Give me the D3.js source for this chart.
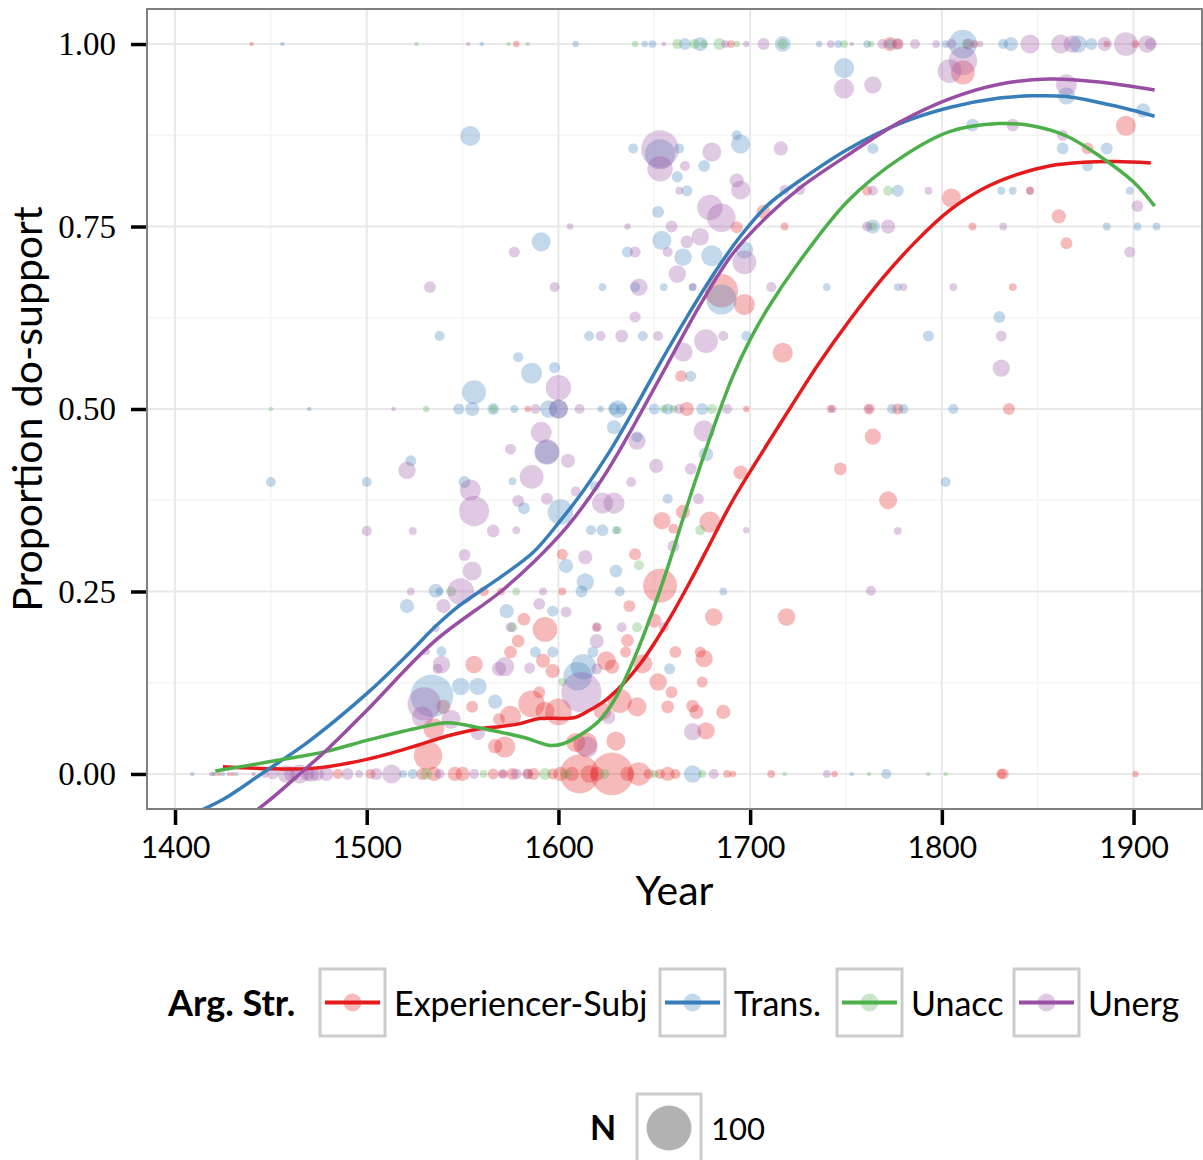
<!DOCTYPE html>
<html>
<head>
<meta charset="utf-8">
<script src="https://cdn.jsdelivr.net/npm/d3@7"></script>
<style>
  body { margin: 0; background: #fff; }
  text { font-family: Lato, "Noto Sans", sans-serif; }
</style>
</head>
<body>
<div id="root"></div>
<script>
// Chart size
const width = 1203;
const height = 1160;

// Panel box
const panel = { left: 147, right: 1202, top: 9, bottom: 809 };

// Group names and colours (ColorBrewer Set1)
const groups = ["Experiencer-Subj", "Trans.", "Unacc", "Unerg"];
const colors = ["#e41a1c", "#377eb8", "#4daf4a", "#984ea3"];

// Tick labels
const xTicks = [1400, 1500, 1600, 1700, 1800, 1900];
const yTicks = [0, 0.25, 0.5, 0.75, 1];

// Points: [year, proportion, N]
const expSubj = [
  [1440,1,1],[1578,1,2],[1690,1,3],[1773,1,10],[1777,1,5],[1817,1,3],[1886,1,2],[1901,1,3],
  [1811,0.961,28],[1896,0.888,20],[1876,0.857,7],[1761,0.799,5],[1846,0.799,3],[1805,0.789,18],
  [1861,0.764,10],[1865,0.727,7],[1816,0.75,3],[1837,0.667,3],[1693,0.749,7],[1707,0.77,10],
  [1718,0.75,3],[1685,0.662,55],[1697,0.643,22],[1717,0.577,20],[1664,0.545,7],[1835,0.5,7],
  [1742,0.5,3],[1762,0.5,6],[1777,0.5,6],[1584,0.5,2],[1667,0.5,10],[1698,0.5,2],
  [1764,0.462,13],[1772,0.375,16],[1695,0.413,10],[1747,0.418,8],[1654,0.347,15],[1665,0.359,10],
  [1679,0.345,22],[1660,0.336,5],[1640,0.301,7],[1602,0.301,6],[1653,0.258,57],[1602,0.25,3],
  [1570,0.25,3],[1561,0.25,5],[1637,0.23,7],[1582,0.212,8],[1681,0.215,15],[1719,0.215,15],
  [1650,0.21,10],[1620,0.201,3],[1593,0.198,30],[1579,0.182,8],[1636,0.183,8],[1575,0.167,8],
  [1635,0.167,6],[1661,0.167,7],[1674,0.167,6],[1676,0.158,15],[1592,0.155,10],[1597,0.141,10],
  [1625,0.155,18],[1628,0.147,10],[1644,0.151,18],[1652,0.126,15],[1659,0.112,7],[1675,0.126,6],
  [1586,0.096,35],[1590,0.112,7],[1600,0.085,35],[1593,0.086,18],[1575,0.079,22],[1632,0.1,28],
  [1641,0.092,18],[1623,0.086,15],[1657,0.092,8],[1670,0.093,8],[1672,0.085,10],[1686,0.085,10],
  [1677,0.059,15],[1630,0.045,18],[1614,0.041,28],[1609,0.043,18],[1572,0.037,22],[1556,0.15,15],
  [1540,0.092,10],[1555,0.092,7],[1532,0.025,40],[1535,0.062,22],[1567,0.038,10],[1569,0.075,7],
  [1423,0,1],[1430,0,1],[1485,0,5],[1502,0,5],[1529,0,7],[1535,0,10],[1546,0,10],[1550,0,10],
  [1566,0,6],[1571,0,3],[1576,0,7],[1584,0,5],[1587,0,7],[1597,0,6],[1601,0,10],[1607,0,10],
  [1611,0,75],[1616,0,15],[1620,0,10],[1628,0,90],[1636,0,10],[1642,0,27],[1647,0,5],[1653,0,5],
  [1657,0,10],[1661,0,5],[1688,0,3],[1691,0,2],[1711,0,3],[1744,0,2],[1831,0,5],[1832,0,6],
  [1901,0,2]
];

const trans = [
  [1456,1,1],[1560,1,1],[1609,1,2],[1645,1,2],[1649,1,3],[1666,1,7],[1674,1,10],[1717,1,12],
  [1736,1,2],[1746,1,3],[1761,1,3],[1773,1,5],[1802,1,3],[1811,1,40],[1832,1,5],[1836,1,10],
  [1871,1,15],[1878,1,7],
  [1554,0.874,20],[1538,0.6,5],[1556,0.523,28],[1749,0.967,20],[1639,0.857,5],[1653,0.849,45],
  [1663,0.857,5],[1693,0.875,5],[1695,0.863,18],[1676,0.833,7],[1662,0.818,6],[1667,0.799,6],
  [1652,0.77,7],[1591,0.729,18],[1636,0.715,6],[1654,0.731,18],[1680,0.71,22],[1697,0.718,15],
  [1665,0.708,15],[1623,0.667,3],[1640,0.667,5],[1655,0.667,3],[1670,0.667,3],[1740,0.667,3],
  [1685,0.65,45],[1616,0.6,5],[1644,0.6,5],[1698,0.6,5],[1579,0.571,5],[1586,0.549,22],
  [1598,0.557,6],[1669,0.545,6],
  [1865,0.929,15],[1905,0.909,10],[1816,0.889,8],[1863,0.857,7],[1886,0.857,7],[1876,0.833,6],
  [1764,0.857,6],[1777,0.799,7],[1831,0.799,3],[1837,0.799,3],[1898,0.799,3],[1764,0.75,10],
  [1886,0.75,3],[1902,0.75,3],[1912,0.75,3],[1777,0.667,3],[1830,0.626,7],[1793,0.6,6],
  [1802,0.4,5],[1806,0.5,5],
  [1470,0.5,1],[1548,0.5,6],[1555,0.5,10],[1566,0.5,7],[1577,0.5,3],[1595,0.5,15],[1600,0.5,18],
  [1622,0.5,2],[1629,0.5,7],[1631,0.5,15],[1633,0.5,6],[1650,0.5,6],[1657,0.5,6],[1675,0.5,7],
  [1774,0.5,5],[1780,0.5,5],
  [1523,0.429,6],[1450,0.4,5],[1500,0.4,5],[1551,0.4,7],[1536,0.251,10],[1538,0.25,3],
  [1521,0.23,10],[1539,0.168,5],[1549,0.12,15],[1558,0.12,15],[1534,0.107,90],[1567,0.099,10],
  [1594,0.441,28],[1576,0.401,3],[1601,0.359,32],[1582,0.364,7],[1619,0.394,5],[1641,0.462,6],
  [1629,0.475,10],[1677,0.438,10],[1657,0.377,5],[1617,0.334,5],[1623,0.334,7],[1630,0.334,3],
  [1604,0.285,10],[1630,0.278,8],[1614,0.263,15],[1612,0.25,7],[1632,0.25,5],[1686,0.25,3],
  [1573,0.223,10],[1597,0.223,6],[1588,0.167,6],[1597,0.167,6],[1618,0.167,6],[1613,0.147,32],
  [1658,0.144,6],[1610,0.134,40],
  [1409,0,1],[1425,0,1],[1432,0,1],[1519,0,3],[1524,0,5],[1670,0,15],[1753,0,1],[1771,0,5]
];

const unacc = [
  [1526,1,1],[1574,1,1],[1584,1,1],[1640,1,2],[1662,1,5],[1671,1,5],[1676,1,3],[1684,1,7],
  [1693,1,2],[1717,1,5],[1749,1,3],[1763,1,2],[1813,1,5],
  [1772,0.799,5],[1764,0.75,3],[1642,0.286,5],[1641,0.201,5],[1631,0.334,3],[1674,0.334,5],
  [1576,0.201,5],[1578,0.25,3],[1544,0.25,5],[1602,0.126,3],
  [1450,0.5,1],[1531,0.5,2],[1566,0.5,3],[1655,0.5,3],[1660,0.5,3],[1680,0.5,5],
  [1421,0,1],[1531,0,7],[1561,0,3],[1593,0,7],[1604,0,5],[1624,0,5],[1650,0,3],[1675,0,3],
  [1718,0,1],[1762,0,1],[1793,0,1],[1802,0,1]
];

const unerg = [
  [1553,1,1],[1655,1,1],[1687,1,3],[1698,1,2],[1707,1,7],[1742,1,3],[1753,1,1],[1769,1,5],
  [1777,1,7],[1786,1,5],[1797,1,3],[1805,1,5],[1814,1,6],[1820,1,2],[1846,1,18],[1862,1,18],
  [1868,1,15],[1885,1,10],[1896,1,28],[1907,1,15],[1909,1,7],
  [1533,0.667,7],[1521,0.416,15],[1554,0.389,22],[1556,0.36,45],[1500,0.333,5],[1524,0.333,3],
  [1566,0.333,8],[1551,0.3,7],[1555,0.278,18],[1549,0.25,35],[1523,0.25,3],[1540,0.23,10],
  [1536,0.2,3],[1531,0.168,3],[1539,0.15,15],[1537,0.144,5],[1530,0.096,55],[1529,0.078,22],
  [1544,0.075,18],[1558,0.056,10],[1569,0.144,10],
  [1749,0.939,20],[1653,0.856,70],[1653,0.829,32],[1680,0.852,18],[1716,0.857,10],[1666,0.833,5],
  [1663,0.799,3],[1693,0.813,10],[1695,0.8,18],[1679,0.776,32],[1685,0.762,40],[1659,0.75,7],
  [1606,0.75,2],[1636,0.75,2],[1577,0.715,6],[1640,0.715,6],[1674,0.736,15],[1667,0.729,8],
  [1697,0.701,28],[1662,0.685,15],[1657,0.715,5],[1718,0.8,5],[1726,0.8,5],[1598,0.667,5],
  [1642,0.667,15],[1670,0.667,3],[1711,0.667,5],[1640,0.626,6],[1622,0.6,5],[1633,0.6,8],
  [1652,0.6,5],[1686,0.6,5],[1677,0.593,28],[1665,0.578,18],[1600,0.529,32],
  [1764,0.944,15],[1804,0.963,28],[1811,0.977,40],[1865,0.944,22],[1837,0.889,8],[1863,0.875,6],
  [1764,0.799,5],[1793,0.799,3],[1846,0.799,3],[1902,0.778,7],[1898,0.715,6],[1761,0.75,5],
  [1772,0.75,10],[1832,0.75,3],[1780,0.667,3],[1806,0.667,3],[1831,0.6,6],[1831,0.556,15],
  [1777,0.333,3],[1763,0.251,5],
  [1514,0.5,1],[1588,0.5,5],[1600,0.5,18],[1611,0.5,5],[1663,0.5,5],[1688,0.5,5],[1743,0.5,3],
  [1762,0.5,3],
  [1591,0.468,22],[1575,0.445,6],[1594,0.441,32],[1605,0.429,10],[1586,0.407,28],[1579,0.374,7],
  [1594,0.377,7],[1609,0.387,5],[1623,0.371,22],[1629,0.371,22],[1641,0.456,15],[1676,0.47,22],
  [1651,0.422,10],[1669,0.418,7],[1638,0.4,5],[1673,0.377,6],[1698,0.334,2],[1578,0.334,3],
  [1660,0.312,7],[1614,0.297,10],[1592,0.25,3],[1590,0.233,7],[1604,0.222,6],[1655,0.201,5],
  [1620,0.201,5],[1575,0.201,5],[1633,0.201,5],[1620,0.182,10],[1572,0.147,18],[1585,0.145,6],
  [1620,0.144,6],[1612,0.112,80],[1626,0.078,10],[1670,0.058,15],[1615,0.037,22],
  [1419,0,1],[1420,0,1],[1428,0,1],[1441,0,1],[1447,0,3],[1451,0,6],[1458,0,15],[1461,0,12],
  [1465,0,18],[1469,0,10],[1471,0,12],[1474,0,10],[1479,0,10],[1490,0,7],[1496,0,3],[1505,0,7],
  [1513,0,18],[1538,0,5],[1556,0,5],[1571,0,5],[1578,0,6],[1584,0,6],[1681,0,5],[1740,0,3]
];

// Smoothed fits: [year, proportion]
const expSubjFit = [
  [1425,0.01],[1452,0.007],[1473,0.008],[1500,0.02],[1525,0.038],[1542,0.052],[1559,0.062],
  [1570,0.065],[1580,0.069],[1590,0.076],[1608,0.077],[1616,0.087],[1625,0.102],[1634,0.124],
  [1643,0.152],[1651,0.183],[1660,0.222],[1669,0.265],[1677,0.305],[1691,0.375],[1709,0.452],
  [1722,0.506],[1736,0.563],[1752,0.622],[1769,0.679],[1787,0.731],[1804,0.772],[1821,0.801],
  [1839,0.821],[1856,0.833],[1874,0.838],[1891,0.839],[1909,0.837]
];
const transFit = [
  [1409,-0.055],[1425,-0.035],[1445,0],[1470,0.045],[1500,0.11],[1520,0.16],[1537,0.205],
  [1547,0.228],[1560,0.252],[1570,0.27],[1587,0.304],[1601,0.347],[1613,0.388],[1627,0.443],
  [1639,0.497],[1653,0.563],[1667,0.626],[1681,0.685],[1695,0.737],[1709,0.779],[1726,0.813],
  [1751,0.856],[1778,0.891],[1804,0.913],[1830,0.926],[1847,0.929],[1865,0.928],[1882,0.92],
  [1900,0.909],[1911,0.901]
];
const unaccFit = [
  [1421,0.004],[1452,0.018],[1479,0.031],[1500,0.046],[1525,0.062],[1542,0.07],[1559,0.063],
  [1570,0.057],[1582,0.05],[1596,0.039],[1602,0.041],[1613,0.056],[1622,0.075],[1630,0.105],
  [1639,0.155],[1648,0.215],[1657,0.283],[1665,0.35],[1674,0.422],[1683,0.49],[1691,0.545],
  [1700,0.595],[1709,0.637],[1726,0.703],[1751,0.785],[1778,0.843],[1804,0.88],[1830,0.891],
  [1847,0.888],[1865,0.874],[1882,0.847],[1900,0.811],[1911,0.778]
];
const unergFit = [
  [1440,-0.055],[1452,-0.03],[1465,0],[1480,0.035],[1500,0.087],[1535,0.181],[1570,0.25],
  [1587,0.29],[1604,0.337],[1622,0.401],[1636,0.462],[1643,0.495],[1657,0.562],[1674,0.643],
  [1691,0.713],[1709,0.764],[1726,0.803],[1751,0.848],[1778,0.893],[1804,0.925],[1830,0.945],
  [1856,0.952],[1882,0.948],[1911,0.937]
];

const pointSets = [expSubj, trans, unacc, unerg];
const fitSets = [expSubjFit, transFit, unaccFit, unergFit];

// Scales
const xScale = d3.scaleLinear()
  .domain([1385.39, 1935.7])
  .range([panel.left, panel.right]);

const yScale = d3.scaleLinear()
  .domain([-0.048, 1.048])
  .range([panel.bottom, panel.top]);

const rScale = d3.scaleSqrt()
  .domain([0, 100])
  .range([0, 22.5]);

// Creating svg
const svg = d3.select("#root")
  .append("svg")
  .attr("width", width)
  .attr("height", height);

svg.append("defs").append("clipPath")
  .attr("id", "clip")
  .append("rect")
  .attr("x", panel.left)
  .attr("y", panel.top)
  .attr("width", panel.right - panel.left)
  .attr("height", panel.bottom - panel.top);

// Grid lines
const grid = svg.append("g");
const xMinor = d3.range(1450, 1935, 100);
const yMinor = [0.125, 0.375, 0.625, 0.875];

grid.selectAll(".xminor").data(xMinor).enter().append("line")
  .attr("x1", d => xScale(d)).attr("x2", d => xScale(d))
  .attr("y1", panel.top).attr("y2", panel.bottom)
  .attr("stroke", "#f6f6f6").attr("stroke-width", 2);
grid.selectAll(".yminor").data(yMinor).enter().append("line")
  .attr("x1", panel.left).attr("x2", panel.right)
  .attr("y1", d => yScale(d)).attr("y2", d => yScale(d))
  .attr("stroke", "#f6f6f6").attr("stroke-width", 2);
grid.selectAll(".xmajor").data(xTicks).enter().append("line")
  .attr("x1", d => xScale(d)).attr("x2", d => xScale(d))
  .attr("y1", panel.top).attr("y2", panel.bottom)
  .attr("stroke", "#e8e8e8").attr("stroke-width", 2);
grid.selectAll(".ymajor").data(yTicks).enter().append("line")
  .attr("x1", panel.left).attr("x2", panel.right)
  .attr("y1", d => yScale(d)).attr("y2", d => yScale(d))
  .attr("stroke", "#e8e8e8").attr("stroke-width", 2);

// Points
const plot = svg.append("g").attr("clip-path", "url(#clip)");

pointSets.forEach((set, i) => {
  plot.append("g")
    .selectAll("circle")
    .data(set)
    .enter()
    .append("circle")
    .attr("cx", d => xScale(d[0]))
    .attr("cy", d => yScale(d[1]))
    .attr("r", d => rScale(d[2]))
    .attr("fill", colors[i])
    .attr("fill-opacity", 0.3);
});

// Smooth lines
const line = d3.line()
  .x(d => xScale(d[0]))
  .y(d => yScale(d[1]))
  .curve(d3.curveCatmullRom.alpha(0.5));

fitSets.forEach((set, i) => {
  plot.append("path")
    .datum(set)
    .attr("fill", "none")
    .attr("stroke", colors[i])
    .attr("stroke-width", 3.5)
    .attr("d", line);
});

// Panel border
svg.append("rect")
  .attr("x", panel.left)
  .attr("y", panel.top)
  .attr("width", panel.right - panel.left)
  .attr("height", panel.bottom - panel.top)
  .attr("fill", "none")
  .attr("stroke", "#7f7f7f")
  .attr("stroke-width", 2);

// Axes
const xAxis = d3.axisBottom(xScale)
  .tickValues(xTicks)
  .tickFormat(d3.format("d"))
  .tickSize(15)
  .tickPadding(12);

const yAxis = d3.axisLeft(yScale)
  .tickValues(yTicks)
  .tickFormat(d3.format(".2f"))
  .tickSize(15)
  .tickPadding(15);

const gx = svg.append("g")
  .attr("transform", "translate(0," + (panel.bottom + 1) + ")")
  .call(xAxis);
gx.select(".domain").remove();
gx.selectAll(".tick line").attr("stroke", "#000").attr("stroke-width", 3.5);
gx.selectAll(".tick text")
  .attr("fill", "#000")
  .style("font-family", "Lato, sans-serif")
  .style("font-size", "30px");

const gy = svg.append("g")
  .attr("transform", "translate(" + (panel.left - 1) + ",0)")
  .call(yAxis);
gy.select(".domain").remove();
gy.selectAll(".tick line").attr("stroke", "#000").attr("stroke-width", 3.5);
gy.selectAll(".tick text")
  .attr("fill", "#000")
  .style("font-family", "'Liberation Serif', serif")
  .style("font-size", "33px");

// Axis titles
svg.append("text")
  .attr("x", (panel.left + panel.right) / 2)
  .attr("y", 905)
  .attr("text-anchor", "middle")
  .style("font-size", "41px")
  .text("Year");

svg.append("text")
  .attr("transform", "translate(42," + (panel.top + panel.bottom) / 2 + ") rotate(-90)")
  .attr("text-anchor", "middle")
  .style("font-size", "41px")
  .text("Proportion do-support");

// Colour legend
const legend = svg.append("g");
legend.append("text")
  .attr("x", 168)
  .attr("y", 1016)
  .style("font-size", "36px")
  .style("font-weight", "bold")
  .text("Arg. Str.");

const keyX = [320, 660, 837, 1014];
groups.forEach((g, i) => {
  const k = legend.append("g").attr("transform", "translate(" + keyX[i] + ",969)");
  k.append("rect")
    .attr("width", 65).attr("height", 67)
    .attr("fill", "#fff").attr("stroke", "#cccccc").attr("stroke-width", 3);
  k.append("circle")
    .attr("cx", 32.5).attr("cy", 33.5).attr("r", 9)
    .attr("fill", colors[i]).attr("fill-opacity", 0.3);
  k.append("line")
    .attr("x1", 5).attr("x2", 60).attr("y1", 33.5).attr("y2", 33.5)
    .attr("stroke", colors[i]).attr("stroke-width", 4);
  k.append("text")
    .attr("x", 74).attr("y", 47)
    .style("font-size", "34px")
    .text(g);
});

// Size legend
const sizeKey = svg.append("g");
sizeKey.append("text")
  .attr("x", 590).attr("y", 1140)
  .style("font-size", "34px")
  .style("font-weight", "bold")
  .text("N");
sizeKey.append("rect")
  .attr("x", 637).attr("y", 1094).attr("width", 64).attr("height", 68)
  .attr("fill", "#fff").attr("stroke", "#cccccc").attr("stroke-width", 3);
sizeKey.append("circle")
  .attr("cx", 669).attr("cy", 1128).attr("r", rScale(100))
  .attr("fill", "#000").attr("fill-opacity", 0.3);
sizeKey.append("text")
  .attr("x", 711).attr("y", 1140)
  .style("font-size", "31px")
  .text("100");
</script>
</body>
</html>
